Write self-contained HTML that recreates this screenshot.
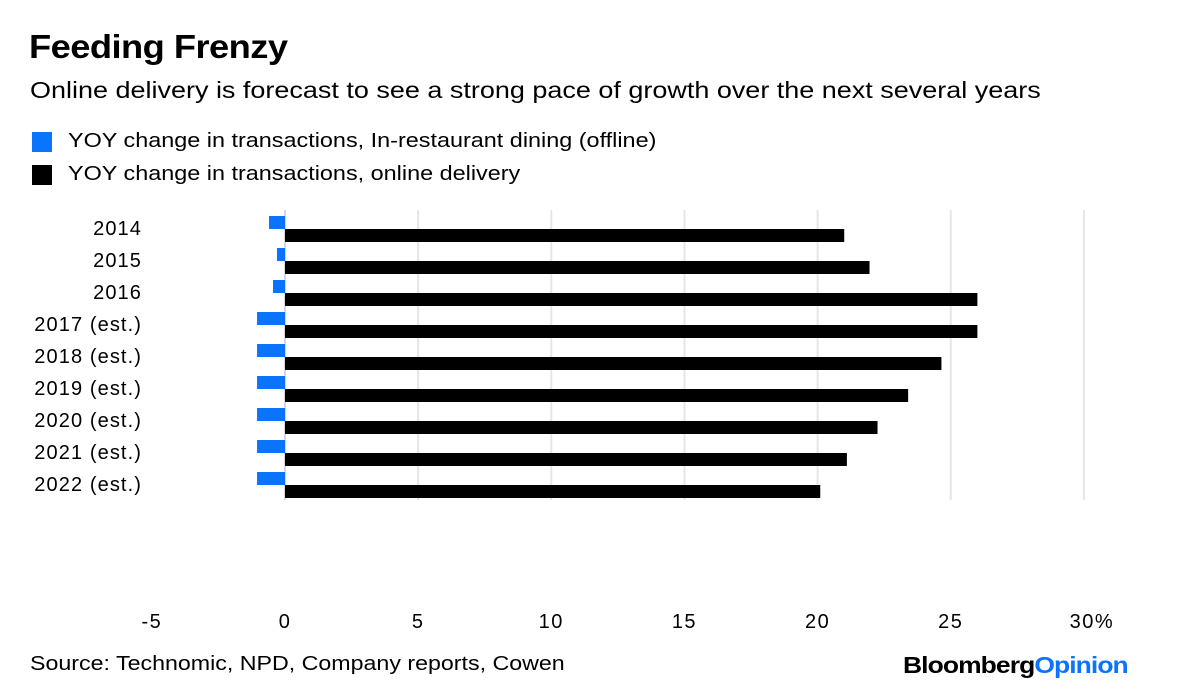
<!DOCTYPE html>
<html><head><meta charset="utf-8"><style>
body{margin:0;background:#fff;font-family:"Liberation Sans",sans-serif;}
#wrap{position:relative;width:1200px;height:692px;overflow:hidden;}
.t{position:absolute;white-space:nowrap;color:#000;transform-origin:0 0;}
</style></head><body>
<div id="wrap">
<div class="t" style="left:29px;top:28px;font-size:33px;font-weight:bold;letter-spacing:-0.5px;transform:scaleX(1.1);">Feeding Frenzy</div>
<div class="t" style="left:30px;top:77px;font-size:23px;transform:scaleX(1.173);">Online delivery is forecast to see a strong pace of growth over the next several years</div>
<div style="position:absolute;left:32px;top:130px;">
<div style="position:absolute;left:0;top:2px;width:20px;height:20px;background:#0a74ff;"></div>
<div class="t" style="left:36px;top:0;font-size:20px;transform:scaleX(1.17);">YOY change in transactions, In-restaurant dining (offline)</div></div>
<div style="position:absolute;left:32px;top:163px;">
<div style="position:absolute;left:0;top:2px;width:20px;height:20px;background:#000;"></div>
<div class="t" style="left:36px;top:0;font-size:20px;transform:scaleX(1.17);">YOY change in transactions, online delivery</div></div>
<svg id="chart" width="1200" height="692" style="position:absolute;left:0;top:0;"></svg>
<div class="t" style="left:30px;top:653px;font-size:20px;transform:scaleX(1.16);">Source: Technomic, NPD, Company reports, Cowen</div>
<div class="t" style="left:903px;top:652px;font-size:23px;font-weight:bold;letter-spacing:-0.8px;transform:scaleX(1.15);">Bloomberg<span style="color:#0a74ff">Opinion</span></div>
</div>
<script>
const categories=["2014","2015","2016","2017 (est.)","2018 (est.)","2019 (est.)","2020 (est.)","2021 (est.)","2022 (est.)"];
const offline=[-0.6,-0.3,-0.45,-1.05,-1.05,-1.05,-1.05,-1.05,-1.05];
const online=[21.0,21.95,26.0,26.0,24.65,23.4,22.25,21.1,20.1];
const ticks=[-5,0,5,10,15,20,25,30];
const tickLabels=["-5","0","5","10","15","20","25","30%"];
const svg=document.getElementById('chart');
const NS='http://www.w3.org/2000/svg';
const x=v=>285+v*26.63;
const rowY=i=>216+i*32;
function mk(t,a){const e=document.createElementNS(NS,t);for(const k in a)e.setAttribute(k,a[k]);svg.appendChild(e);return e;}
ticks.forEach((t,i)=>{
 if(t>0){const g=mk('line',{x1:x(t),x2:x(t),y1:210,y2:500,stroke:'#e6e6e6','stroke-width':2});
 
 }
 const l=mk('text',{x:x(t)+(i==ticks.length-1?8:0),y:628,'text-anchor':'middle','font-size':20,'letter-spacing':1.5,'font-family':'Liberation Sans, sans-serif'});
 l.textContent=tickLabels[i];
 
 
});
const z=mk('line',{x1:x(0),x2:x(0),y1:210,y2:500,stroke:'#ccc','stroke-width':1.5});


categories.forEach((c,i)=>{
 const y=rowY(i);
 const l=mk('text',{x:142,y:y+19,'text-anchor':'end','font-size':20,'letter-spacing':1.1,'font-family':'Liberation Sans, sans-serif'});
 l.textContent=c;
 
 
 const b=mk('rect',{x:Math.min(x(0),x(offline[i])),y:y,width:Math.abs(x(offline[i])-x(0)),height:13,fill:'#0a74ff'});
 
 
 const k=mk('rect',{x:x(0),y:y+13,width:x(online[i])-x(0),height:13,fill:'#000'});
 
 
});
</script>
</body></html>
